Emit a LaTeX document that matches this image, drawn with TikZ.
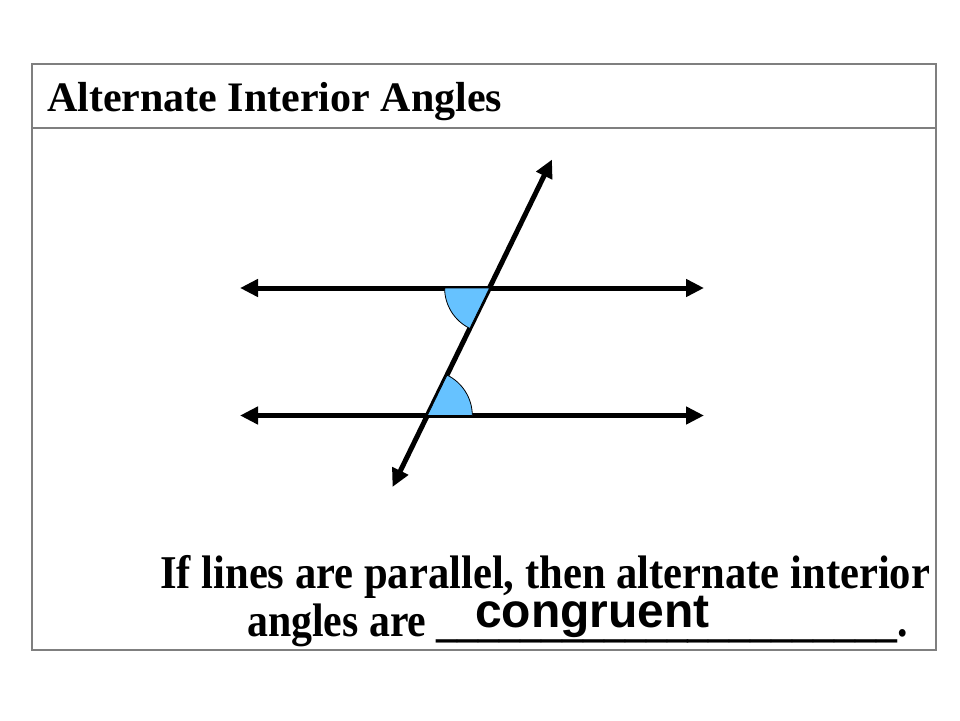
\documentclass[tikz,border=0pt]{standalone}
\usepackage{fontspec}
\setmainfont{Liberation Serif}
\newfontfamily\arialf{Liberation Sans}
\usetikzlibrary{arrows.meta}
\definecolor{framegray}{HTML}{7F7F7F}
\definecolor{wedgeblue}{HTML}{66C2FF}
\tikzset{
  frame/.style={draw=framegray, line width=2pt},
  ray/.style={line width=5pt, {Triangle[length=18pt,width=17pt]}-{Triangle[length=18pt,width=17pt]}},
  wedge/.style={fill=wedgeblue, draw=black, line width=0.8pt, line join=round},
  txt/.style={inner sep=0pt, anchor=base west},
}
\begin{document}
\begin{tikzpicture}[x=1pt,y=-1pt]
\useasboundingbox (0,0) rectangle (960,720);
\fill[white] (0,0) rectangle (960,720);
% frame
\draw[frame] (32,64) rectangle (935.5,650);
\coordinate (hl) at (32,128);
\coordinate (hr) at (935.5,128);
\draw[frame] (hl) -- (hr);
% title
\node[txt] (title) at (47,111) {\fontsize{42}{48}\selectfont\bfseries Alternate Interior Angles};
% lines
\coordinate (L1) at (240,288);
\coordinate (R1) at (704,288);
\coordinate (L2) at (240,415.5);
\coordinate (R2) at (704,415.5);
\coordinate (T1) at (552,159.5);
\coordinate (T2) at (392.5,487);
\coordinate (P) at (489.6,288);
\coordinate (Q) at (427.3,415.5);
\draw[ray] (L1) -- (R1);
\draw[ray] (L2) -- (R2);
\draw[ray] (T2) -- (T1);
% angles
\draw[wedge] (P) -- ++(180:45) arc[start angle=180, end angle=116, radius=45] -- cycle;
\draw[wedge] (Q) -- ++(0:45) arc[start angle=0, end angle=-64, radius=45] -- cycle;
% statement
\node[txt] (s1) at (160,588) {\fontsize{47}{50}\selectfont\bfseries\scalebox{0.907}[1]{If lines are parallel, then alternate interior}};
\node[txt] (s2) at (247,636) {\fontsize{47}{50}\selectfont\bfseries\scalebox{0.89}[1]{angles are \_\_\_\_\_\_\_\_\_\_\_\_\_\_\_\_\_\_\_\_\_\_.}};
\node[txt] (ans) at (475,627) {\fontsize{48}{50}\selectfont\arialf\bfseries congruent};
\end{tikzpicture}
\end{document}
